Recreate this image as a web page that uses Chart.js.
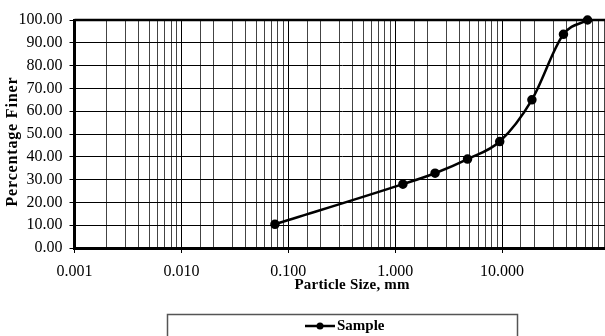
<!DOCTYPE html>
<html>
<head>
<meta charset="utf-8">
<script src="https://cdn.jsdelivr.net/npm/chart.js@4.4.1/dist/chart.umd.min.js"></script>
<style>
html,body{margin:0;padding:0;background:#fff;overflow:hidden;}
#wrap{width:615px;height:336px;position:relative;}
</style>
</head>
<body>
<div id="wrap"><canvas id="c" width="615" height="336"></canvas></div>
<script>
const seriesName = 'Sample';
const particleSize = [0.075, 1.18, 2.36, 4.75, 9.5, 19, 37.5, 63];
const percentFiner = [10.4, 28.0, 32.8, 39.0, 46.7, 65.0, 93.7, 100.0];
const xTitle = 'Particle Size, mm';
const yTitle = 'Percentage Finer';

const SERIF = '"Liberation Serif","Times New Roman",serif';
function isDecade(v){const l=Math.log10(v);return Math.abs(l-Math.round(l))<1e-9;}

function spacedText(ctx,text,x,y,target){
  ctx.letterSpacing='0px';
  const w=ctx.measureText(text).width;
  const sp=Math.max(0,(target-w)/(text.length-1));
  ctx.letterSpacing=sp+'px';
  ctx.fillText(text,x+sp/2,y);
  ctx.letterSpacing='0px';
}

const extras = {
  id:'extras',
  afterDraw(chart){
    const ctx=chart.ctx, a=chart.chartArea;
    ctx.save();
    // top/right border
    ctx.strokeStyle='#000';ctx.lineWidth=2.5;
    ctx.beginPath();ctx.moveTo(a.left,a.top);ctx.lineTo(a.right,a.top);ctx.lineTo(a.right,a.bottom);ctx.stroke();
    // x title
    ctx.fillStyle='#000';ctx.font='bold 15px '+SERIF;ctx.textAlign='center';ctx.textBaseline='middle';
    spacedText(ctx,xTitle,352,285,115);
    // y title
    ctx.save();ctx.translate(12.5,142);ctx.rotate(-Math.PI/2);
    ctx.font='bold 16px '+SERIF;
    spacedText(ctx,yTitle,0,0,129);
    ctx.restore();
    // legend box
    ctx.strokeStyle='#555';ctx.lineWidth=1.5;
    ctx.strokeRect(167.5,314.5,350,40);
    ctx.strokeStyle='#000';ctx.lineWidth=2.5;
    ctx.beginPath();ctx.moveTo(305,326);ctx.lineTo(335,326);ctx.stroke();
    ctx.beginPath();ctx.arc(320,326,3.5,0,Math.PI*2);ctx.fill();
    ctx.textAlign='left';ctx.font='bold 15px '+SERIF;
    ctx.fillText(chart.data.datasets[0].label,337,326);
    ctx.restore();
  }
};

new Chart(document.getElementById('c'),{
  type:'line',
  data:{
    datasets:[{
      label:seriesName,
      data:particleSize.map((x,i)=>({x:x,y:percentFiner[i]})),
      borderColor:'#000',backgroundColor:'#000',borderWidth:2.5,
      pointRadius:3.5,pointHoverRadius:3.5,pointBackgroundColor:'#000',pointBorderColor:'#000',
      cubicInterpolationMode:'monotone',fill:false,clip:false
    }]
  },
  plugins:[extras],
  options:{
    responsive:false,animation:false,
    layout:{padding:{top:20,right:6,left:0,bottom:0}},
    plugins:{legend:{display:false},tooltip:{enabled:false}},
    scales:{
      x:{
        type:'logarithmic',min:0.001,max:100,
        afterFit(s){s.height=88;s.paddingLeft=0;s.paddingRight=0;},
        border:{display:true,color:'#000',width:3},
        grid:{
          color:(c)=>(c.tick&&isDecade(c.tick.value))?'#000':'#444',
          lineWidth:1,
          tickLength:5,
          tickColor:(c)=>(c.tick&&isDecade(c.tick.value))?'#000':'rgba(0,0,0,0)'
        },
        ticks:{
          autoSkip:false,maxRotation:0,minRotation:0,padding:9,color:'#000',
          font:{family:SERIF,size:16},
          callback:(v)=>(isDecade(v)&&v<50)?Number(v).toFixed(3):''
        },
        title:{display:false}
      },
      y:{
        min:0,max:100,
        afterFit(s){s.width=74.5;},
        border:{display:true,color:'#000',width:3},
        grid:{color:'#000',lineWidth:1,tickLength:5,tickColor:'#000'},
        ticks:{stepSize:10,padding:7,color:'#000',font:{family:SERIF,size:16},
          callback:(v)=>Number(v).toFixed(2)},
        title:{display:false}
      }
    }
  }
});
</script>
</body>
</html>
